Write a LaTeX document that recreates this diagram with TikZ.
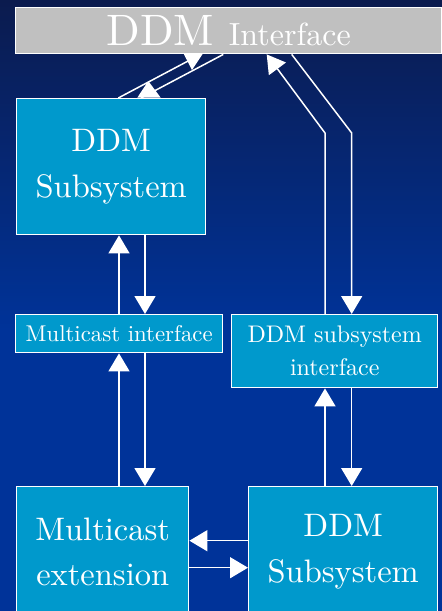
\documentclass[tikz,border=0pt]{standalone}
\usepackage{fontspec}
\setmainfont{lmroman10-regular}[Extension=.otf]
\usetikzlibrary{arrows.meta}
\definecolor{navytop}{HTML}{0B1B4E}
\definecolor{navyblue}{HTML}{003399}
\definecolor{boxcyan}{HTML}{0099CC}
\definecolor{bargray}{HTML}{C0C0C0}
\begin{document}
\begin{tikzpicture}[x=1pt,y=-1pt,
  box/.style={draw=white, line width=1.4pt, fill=boxcyan, text=white,
              align=center, inner sep=0pt, anchor=north west},
  link/.style={draw=white, line width=1.5pt},
  arr/.style={link, -{Triangle[width=21pt,length=18pt]}},
  bigtext/.style={font=\fontsize{32.5}{45.5}\selectfont},
  smalltext/.style={font=\fontsize{24}{33}\selectfont}]
  \useasboundingbox (0,0) rectangle (442,611);
  \clip (0,0) rectangle (442,611);
  % background
  \shade[top color=navytop, bottom color=navyblue] (0,0) rectangle (442,330);
  \fill[navyblue] (0,329) rectangle (442,611);

  % boxes
  \node[box, fill=bargray, minimum width=426pt, minimum height=46pt] (bar) at (15,7)
    {\fontsize{44}{44}\selectfont DDM \fontsize{32}{32}\selectfont Interface};
  \node[box, bigtext, minimum width=189pt, minimum height=136pt] (s1) at (16,98)
    {DDM\\Subsystem};
  \node[box, smalltext, minimum width=207pt, minimum height=38pt] (mi) at (15,314)
    {\fontsize{22.8}{33}\selectfont Multicast interface};
  \node[box, smalltext, minimum width=206pt, minimum height=73pt] (si) at (231,314)
    {DDM subsystem\\interface};
  \node[box, bigtext, minimum width=172pt, minimum height=130pt] (me) at (16,486)
    {Multicast\\extension};
  \node[box, bigtext, minimum width=189pt, minimum height=130pt] (ds) at (248,486)
    {DDM\\Subsystem};

  % guide positions for the connectors
  \coordinate (xl) at (119,0);
  \coordinate (xr) at (145,0);
  \coordinate (xL) at (325,0);
  \coordinate (xR) at (351.7,0);
  \coordinate (yu) at (0,540.7);
  \coordinate (yd) at (0,567.7);

  % left column
  \draw[arr] (xl |- mi.north) -- (xl |- s1.south);
  \draw[arr] (xr |- s1.south) -- (xr |- mi.north);
  \draw[arr] (xl |- me.north) -- (xl |- mi.south);
  \draw[arr] (xr |- mi.south) -- (xr |- me.north);

  % right column
  \draw[arr] (xL |- ds.north) -- (xL |- si.south);
  \draw[arr] (xR |- si.south) -- (xR |- ds.north);
  \draw[arr] (xL |- si.north) -- (325,133) -- (266.7,0 |- bar.south);
  \draw[arr] (291.7,0 |- bar.south) -- (351.7,133) -- (xR |- si.north);

  % bottom pair
  \draw[arr] (ds.west |- yu) -- (me.east |- yu);
  \draw[arr] (me.east |- yd) -- (ds.west |- yd);

  % top-left diagonal pair
  \draw[link] (118.3,0 |- s1.north) -- (200.5,0 |- bar.south);
  \draw[link] (141,0 |- s1.north) -- (223.3,0 |- bar.south);
  \fill[white] (137.3,97.7) -- (148.3,81) -- (160.7,97.7) -- cycle;
  \fill[white] (183.3,53) -- (192,70) -- (203.3,53) -- cycle;
\end{tikzpicture}
\end{document}
